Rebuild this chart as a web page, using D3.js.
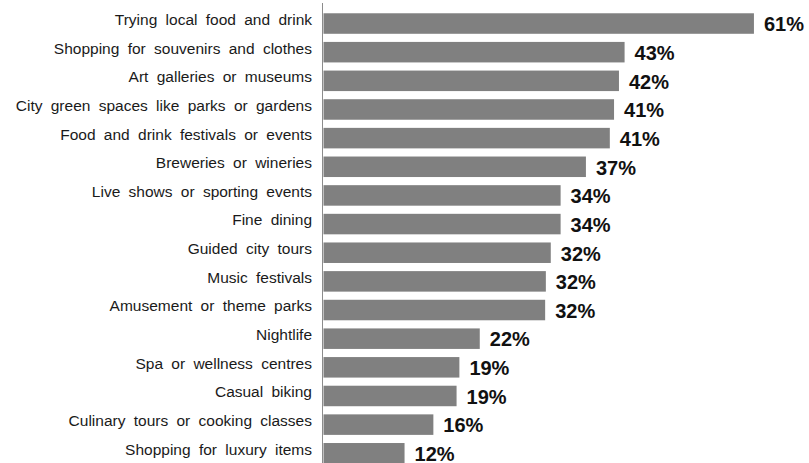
<!DOCTYPE html>
<html>
<head>
<meta charset="utf-8">
<script src="https://cdn.jsdelivr.net/npm/d3@7/dist/d3.min.js"></script>
<style>
  html, body { margin: 0; padding: 0; background: #fff; }
  svg { display: block; }
</style>
</head>
<body>
<svg id="chart" width="809" height="463"></svg>
<script>
const categories = [
  "Trying local food and drink",
  "Shopping for souvenirs and clothes",
  "Art galleries or museums",
  "City green spaces like parks or gardens",
  "Food and drink festivals or events",
  "Breweries or wineries",
  "Live shows or sporting events",
  "Fine dining",
  "Guided city tours",
  "Music festivals",
  "Amusement or theme parks",
  "Nightlife",
  "Spa or wellness centres",
  "Casual biking",
  "Culinary tours or cooking classes",
  "Shopping for luxury items"
];
const values = [61.3, 42.9, 42.1, 41.4, 40.8, 37.4, 33.8, 33.8, 32.4, 31.7, 31.6, 22.3, 19.4, 19.0, 15.7, 11.6];

const svg = d3.select("#chart");
const left = 323;

const x = d3.scaleLinear().domain([0, 100]).range([left, left + 703]);
const y = d3.scaleBand()
  .domain(categories)
  .range([9.2, 9.2 + 16 * 28.65])
  .paddingInner(0.284)
  .paddingOuter(0.142);

// bars
svg.append("g").selectAll("rect")
  .data(categories)
  .join("rect")
  .attr("x", x(0) + 0.5)
  .attr("y", d => y(d))
  .attr("width", (d, i) => x(values[i]) - x(0) - 0.5)
  .attr("height", y.bandwidth())
  .attr("fill", "#808080");

// axis line
svg.append("line")
  .attr("x1", x(0) - 0.5).attr("x2", x(0) - 0.5)
  .attr("y1", 3).attr("y2", 463)
  .attr("stroke", "#8c8c8c")
  .attr("stroke-width", 1);

// category labels
svg.append("g").selectAll("text")
  .data(categories)
  .join("text")
  .attr("x", 312)
  .attr("y", d => y(d) + y.bandwidth() / 2 + 1.4)
  .attr("text-anchor", "end")
  .attr("font-family", "Liberation Sans, Arial, sans-serif")
  .attr("font-size", "15.5px")
  .attr("word-spacing", "4px")
  .attr("fill", "#1a1a1a")
  .text(d => d);

// value labels
svg.append("g").selectAll("text")
  .data(categories)
  .join("text")
  .attr("x", (d, i) => x(values[i]) + 10)
  .attr("y", d => y(d) + y.bandwidth() / 2 + 7.8)
  .attr("font-family", "Liberation Sans, Arial, sans-serif")
  .attr("font-size", "20px")
  .attr("font-weight", "bold")
  .attr("fill", "#111")
  .text((d, i) => Math.round(values[i]) + "%");
</script>
</body>
</html>
